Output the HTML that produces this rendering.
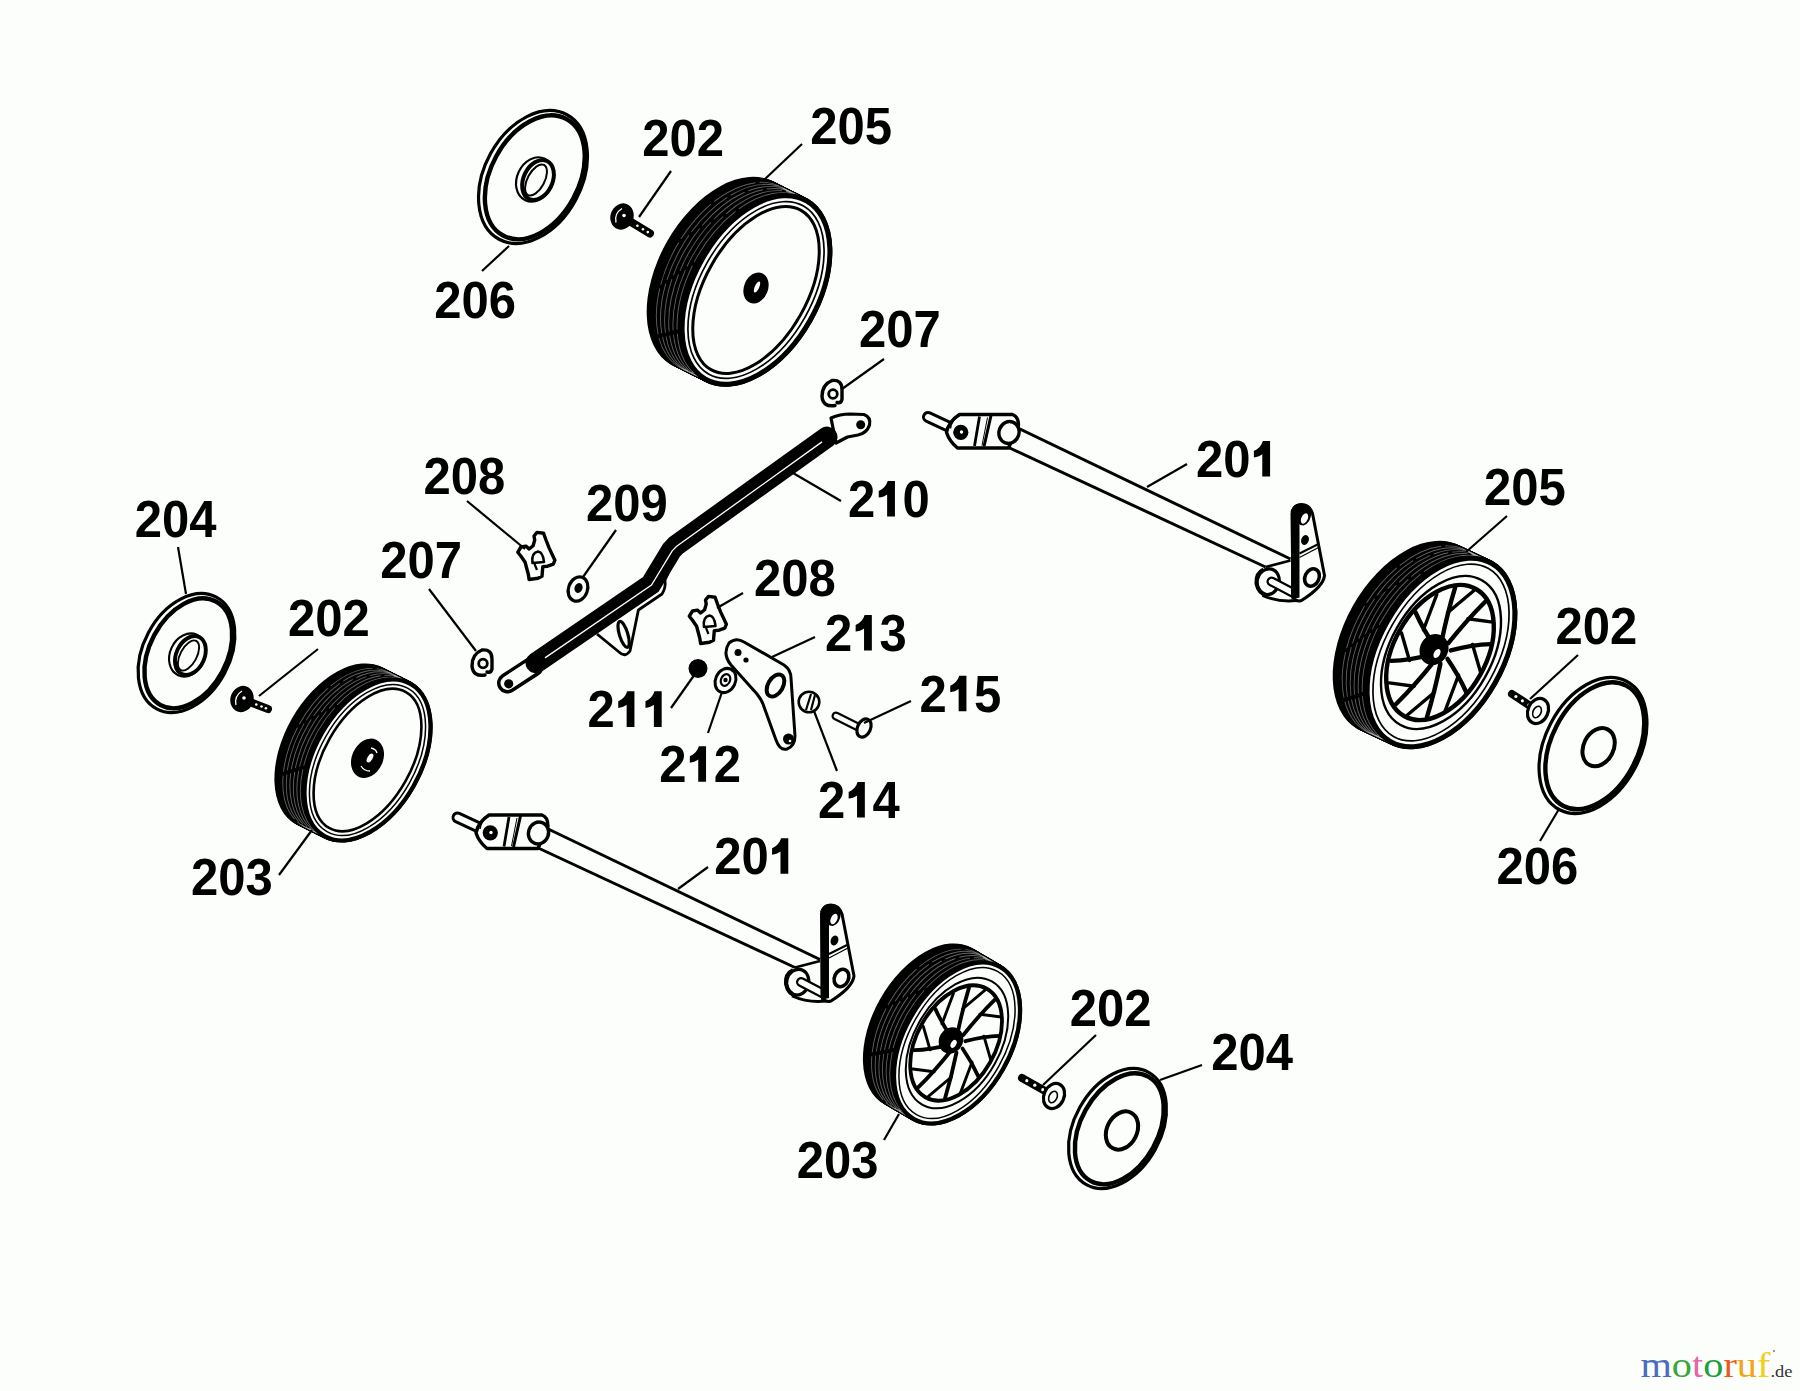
<!DOCTYPE html>
<html><head><meta charset="utf-8"><style>html,body{margin:0;padding:0;background:#fcfefc;}svg{display:block}</style></head>
<body><svg width="1800" height="1391" viewBox="0 0 1800 1391">
<rect width="1800" height="1391" fill="#fcfefc"/>
<ellipse cx="533.0" cy="177.0" rx="48.5" ry="70.9" transform="rotate(28.6 533.0 177.0)" fill="#fcfefc" stroke="#000" stroke-width="3.2"/>
<ellipse cx="534.8" cy="177.3" rx="43.9" ry="66.3" transform="rotate(28.6 534.8 177.3)" fill="none" stroke="#000" stroke-width="4.4"/>
<ellipse cx="186.5" cy="653.0" rx="43.2" ry="63.3" transform="rotate(28.1 186.5 653.0)" fill="#fcfefc" stroke="#000" stroke-width="3.2"/>
<ellipse cx="188.3" cy="653.3" rx="38.6" ry="58.7" transform="rotate(28.1 188.3 653.3)" fill="none" stroke="#000" stroke-width="4.4"/>
<ellipse cx="1593.0" cy="745.5" rx="47.7" ry="72.4" transform="rotate(27.5 1593.0 745.5)" fill="#fcfefc" stroke="#000" stroke-width="3.2"/>
<ellipse cx="1594.8" cy="745.8" rx="43.1" ry="67.8" transform="rotate(27.5 1594.8 745.8)" fill="none" stroke="#000" stroke-width="4.4"/>
<ellipse cx="1117.5" cy="1128.5" rx="43.2" ry="64.2" transform="rotate(29.0 1117.5 1128.5)" fill="#fcfefc" stroke="#000" stroke-width="3.2"/>
<ellipse cx="1119.3" cy="1128.8" rx="38.6" ry="59.6" transform="rotate(29.0 1119.3 1128.8)" fill="none" stroke="#000" stroke-width="4.4"/>
<ellipse cx="535.0" cy="179.5" rx="18.0" ry="23.0" transform="rotate(25.0 535.0 179.5)" fill="none" stroke="#000" stroke-width="2.2"/>
<ellipse cx="538.0" cy="180.0" rx="14.5" ry="21.0" transform="rotate(25.0 538.0 180.0)" fill="none" stroke="#000" stroke-width="4.0"/>
<ellipse cx="536.0" cy="180.0" rx="8.5" ry="17.0" transform="rotate(28.0 536.0 180.0)" fill="none" stroke="#000" stroke-width="2.0"/>
<ellipse cx="187.5" cy="655.0" rx="17.5" ry="22.3" transform="rotate(25.0 187.5 655.0)" fill="none" stroke="#000" stroke-width="2.1"/>
<ellipse cx="190.4" cy="655.5" rx="14.1" ry="20.4" transform="rotate(25.0 190.4 655.5)" fill="none" stroke="#000" stroke-width="3.9"/>
<ellipse cx="188.5" cy="655.5" rx="8.2" ry="16.5" transform="rotate(28.0 188.5 655.5)" fill="none" stroke="#000" stroke-width="1.9"/>
<ellipse cx="1598.6" cy="747.2" rx="15.0" ry="20.0" transform="rotate(27.0 1598.6 747.2)" fill="none" stroke="#000" stroke-width="4"/>
<ellipse cx="1122.0" cy="1130.5" rx="15.0" ry="20.0" transform="rotate(27.0 1122.0 1130.5)" fill="none" stroke="#000" stroke-width="4"/>
<ellipse cx="723.0" cy="273.5" rx="64.5" ry="105.0" transform="rotate(29.5 723.0 273.5)" fill="#000"/>
<ellipse cx="724.4" cy="274.2" rx="64.5" ry="105.0" transform="rotate(29.5 724.4 274.2)" fill="#000"/>
<ellipse cx="725.8" cy="274.9" rx="64.5" ry="105.0" transform="rotate(29.5 725.8 274.9)" fill="#000"/>
<ellipse cx="727.1" cy="275.6" rx="64.5" ry="105.0" transform="rotate(29.5 727.1 275.6)" fill="#000"/>
<ellipse cx="728.5" cy="276.2" rx="64.5" ry="105.0" transform="rotate(29.5 728.5 276.2)" fill="#000"/>
<ellipse cx="729.9" cy="276.9" rx="64.5" ry="105.0" transform="rotate(29.5 729.9 276.9)" fill="#000"/>
<ellipse cx="731.2" cy="277.6" rx="64.5" ry="105.0" transform="rotate(29.5 731.2 277.6)" fill="#000"/>
<ellipse cx="732.6" cy="278.3" rx="64.5" ry="105.0" transform="rotate(29.5 732.6 278.3)" fill="#000"/>
<ellipse cx="734.0" cy="279.0" rx="64.5" ry="105.0" transform="rotate(29.5 734.0 279.0)" fill="#000"/>
<ellipse cx="735.4" cy="279.7" rx="64.5" ry="105.0" transform="rotate(29.5 735.4 279.7)" fill="#000"/>
<ellipse cx="736.8" cy="280.4" rx="64.5" ry="105.0" transform="rotate(29.5 736.8 280.4)" fill="#000"/>
<ellipse cx="738.1" cy="281.1" rx="64.5" ry="105.0" transform="rotate(29.5 738.1 281.1)" fill="#000"/>
<ellipse cx="739.5" cy="281.8" rx="64.5" ry="105.0" transform="rotate(29.5 739.5 281.8)" fill="#000"/>
<ellipse cx="740.9" cy="282.4" rx="64.5" ry="105.0" transform="rotate(29.5 740.9 282.4)" fill="#000"/>
<ellipse cx="742.2" cy="283.1" rx="64.5" ry="105.0" transform="rotate(29.5 742.2 283.1)" fill="#000"/>
<ellipse cx="743.6" cy="283.8" rx="64.5" ry="105.0" transform="rotate(29.5 743.6 283.8)" fill="#000"/>
<ellipse cx="745.0" cy="284.5" rx="64.5" ry="105.0" transform="rotate(29.5 745.0 284.5)" fill="#000"/>
<ellipse cx="746.4" cy="285.2" rx="64.5" ry="105.0" transform="rotate(29.5 746.4 285.2)" fill="#000"/>
<ellipse cx="747.8" cy="285.9" rx="64.5" ry="105.0" transform="rotate(29.5 747.8 285.9)" fill="#000"/>
<ellipse cx="749.1" cy="286.6" rx="64.5" ry="105.0" transform="rotate(29.5 749.1 286.6)" fill="#000"/>
<ellipse cx="750.5" cy="287.2" rx="64.5" ry="105.0" transform="rotate(29.5 750.5 287.2)" fill="#000"/>
<ellipse cx="751.9" cy="287.9" rx="64.5" ry="105.0" transform="rotate(29.5 751.9 287.9)" fill="#000"/>
<ellipse cx="753.2" cy="288.6" rx="64.5" ry="105.0" transform="rotate(29.5 753.2 288.6)" fill="#000"/>
<ellipse cx="754.6" cy="289.3" rx="64.5" ry="105.0" transform="rotate(29.5 754.6 289.3)" fill="#000"/>
<ellipse cx="756.0" cy="290.0" rx="64.5" ry="105.0" transform="rotate(29.5 756.0 290.0)" fill="#000"/>
<ellipse cx="731.2" cy="277.6" rx="63.0" ry="103.5" transform="rotate(29.5 731.2 277.6)" fill="none" stroke="#fff" stroke-width="0.9" stroke-opacity="0.38" stroke-dasharray="46 4" stroke-dashoffset="26"/>
<ellipse cx="735.4" cy="279.7" rx="63.0" ry="103.5" transform="rotate(29.5 735.4 279.7)" fill="none" stroke="#fff" stroke-width="0.9" stroke-opacity="0.38" stroke-dasharray="50 4" stroke-dashoffset="39"/>
<ellipse cx="739.5" cy="281.8" rx="63.0" ry="103.5" transform="rotate(29.5 739.5 281.8)" fill="none" stroke="#fff" stroke-width="0.9" stroke-opacity="0.38" stroke-dasharray="54 4" stroke-dashoffset="52"/>
<ellipse cx="743.6" cy="283.8" rx="63.0" ry="103.5" transform="rotate(29.5 743.6 283.8)" fill="none" stroke="#fff" stroke-width="0.9" stroke-opacity="0.38" stroke-dasharray="58 4" stroke-dashoffset="65"/>
<ellipse cx="747.8" cy="285.9" rx="63.0" ry="103.5" transform="rotate(29.5 747.8 285.9)" fill="none" stroke="#fff" stroke-width="0.9" stroke-opacity="0.38" stroke-dasharray="62 4" stroke-dashoffset="78"/>
<ellipse cx="751.9" cy="287.9" rx="63.0" ry="103.5" transform="rotate(29.5 751.9 287.9)" fill="none" stroke="#fff" stroke-width="0.9" stroke-opacity="0.38" stroke-dasharray="66 4" stroke-dashoffset="91"/>
<ellipse cx="756.0" cy="290.0" rx="62.0" ry="102.5" transform="rotate(29.5 756.0 290.0)" fill="#fcfefc" stroke="#000" stroke-width="5.0"/>
<ellipse cx="756.0" cy="290.0" rx="56.0" ry="96.5" transform="rotate(29.5 756.0 290.0)" fill="none" stroke="#000" stroke-width="1.7"/>
<ellipse cx="756.0" cy="290.0" rx="51.0" ry="91.5" transform="rotate(29.5 756.0 290.0)" fill="none" stroke="#000" stroke-width="3.0"/>
<ellipse cx="756.0" cy="288.0" rx="12.0" ry="16.0" transform="rotate(22.0 756.0 288.0)" fill="#000"/>
<ellipse cx="757.0" cy="287.0" rx="2.2" ry="6.0" transform="rotate(25.0 757.0 287.0)" fill="#fff"/>
<ellipse cx="339.5" cy="746.0" rx="55.0" ry="89.6" transform="rotate(29.5 339.5 746.0)" fill="#000"/>
<ellipse cx="340.7" cy="746.6" rx="55.0" ry="89.6" transform="rotate(29.5 340.7 746.6)" fill="#000"/>
<ellipse cx="341.8" cy="747.2" rx="55.0" ry="89.6" transform="rotate(29.5 341.8 747.2)" fill="#000"/>
<ellipse cx="343.0" cy="747.8" rx="55.0" ry="89.6" transform="rotate(29.5 343.0 747.8)" fill="#000"/>
<ellipse cx="344.2" cy="748.3" rx="55.0" ry="89.6" transform="rotate(29.5 344.2 748.3)" fill="#000"/>
<ellipse cx="345.3" cy="748.9" rx="55.0" ry="89.6" transform="rotate(29.5 345.3 748.9)" fill="#000"/>
<ellipse cx="346.5" cy="749.5" rx="55.0" ry="89.6" transform="rotate(29.5 346.5 749.5)" fill="#000"/>
<ellipse cx="347.7" cy="750.1" rx="55.0" ry="89.6" transform="rotate(29.5 347.7 750.1)" fill="#000"/>
<ellipse cx="348.8" cy="750.7" rx="55.0" ry="89.6" transform="rotate(29.5 348.8 750.7)" fill="#000"/>
<ellipse cx="350.0" cy="751.2" rx="55.0" ry="89.6" transform="rotate(29.5 350.0 751.2)" fill="#000"/>
<ellipse cx="351.2" cy="751.8" rx="55.0" ry="89.6" transform="rotate(29.5 351.2 751.8)" fill="#000"/>
<ellipse cx="352.3" cy="752.4" rx="55.0" ry="89.6" transform="rotate(29.5 352.3 752.4)" fill="#000"/>
<ellipse cx="353.5" cy="753.0" rx="55.0" ry="89.6" transform="rotate(29.5 353.5 753.0)" fill="#000"/>
<ellipse cx="354.7" cy="753.6" rx="55.0" ry="89.6" transform="rotate(29.5 354.7 753.6)" fill="#000"/>
<ellipse cx="355.8" cy="754.2" rx="55.0" ry="89.6" transform="rotate(29.5 355.8 754.2)" fill="#000"/>
<ellipse cx="357.0" cy="754.8" rx="55.0" ry="89.6" transform="rotate(29.5 357.0 754.8)" fill="#000"/>
<ellipse cx="358.2" cy="755.3" rx="55.0" ry="89.6" transform="rotate(29.5 358.2 755.3)" fill="#000"/>
<ellipse cx="359.3" cy="755.9" rx="55.0" ry="89.6" transform="rotate(29.5 359.3 755.9)" fill="#000"/>
<ellipse cx="360.5" cy="756.5" rx="55.0" ry="89.6" transform="rotate(29.5 360.5 756.5)" fill="#000"/>
<ellipse cx="361.7" cy="757.1" rx="55.0" ry="89.6" transform="rotate(29.5 361.7 757.1)" fill="#000"/>
<ellipse cx="362.8" cy="757.7" rx="55.0" ry="89.6" transform="rotate(29.5 362.8 757.7)" fill="#000"/>
<ellipse cx="364.0" cy="758.2" rx="55.0" ry="89.6" transform="rotate(29.5 364.0 758.2)" fill="#000"/>
<ellipse cx="365.2" cy="758.8" rx="55.0" ry="89.6" transform="rotate(29.5 365.2 758.8)" fill="#000"/>
<ellipse cx="366.3" cy="759.4" rx="55.0" ry="89.6" transform="rotate(29.5 366.3 759.4)" fill="#000"/>
<ellipse cx="367.5" cy="760.0" rx="55.0" ry="89.6" transform="rotate(29.5 367.5 760.0)" fill="#000"/>
<ellipse cx="346.5" cy="749.5" rx="53.5" ry="88.1" transform="rotate(29.5 346.5 749.5)" fill="none" stroke="#fff" stroke-width="0.9" stroke-opacity="0.38" stroke-dasharray="46 4" stroke-dashoffset="26"/>
<ellipse cx="350.0" cy="751.2" rx="53.5" ry="88.1" transform="rotate(29.5 350.0 751.2)" fill="none" stroke="#fff" stroke-width="0.9" stroke-opacity="0.38" stroke-dasharray="50 4" stroke-dashoffset="39"/>
<ellipse cx="353.5" cy="753.0" rx="53.5" ry="88.1" transform="rotate(29.5 353.5 753.0)" fill="none" stroke="#fff" stroke-width="0.9" stroke-opacity="0.38" stroke-dasharray="54 4" stroke-dashoffset="52"/>
<ellipse cx="357.0" cy="754.8" rx="53.5" ry="88.1" transform="rotate(29.5 357.0 754.8)" fill="none" stroke="#fff" stroke-width="0.9" stroke-opacity="0.38" stroke-dasharray="58 4" stroke-dashoffset="65"/>
<ellipse cx="360.5" cy="756.5" rx="53.5" ry="88.1" transform="rotate(29.5 360.5 756.5)" fill="none" stroke="#fff" stroke-width="0.9" stroke-opacity="0.38" stroke-dasharray="62 4" stroke-dashoffset="78"/>
<ellipse cx="364.0" cy="758.2" rx="53.5" ry="88.1" transform="rotate(29.5 364.0 758.2)" fill="none" stroke="#fff" stroke-width="0.9" stroke-opacity="0.38" stroke-dasharray="66 4" stroke-dashoffset="91"/>
<ellipse cx="367.5" cy="760.0" rx="52.9" ry="87.4" transform="rotate(29.5 367.5 760.0)" fill="#fcfefc" stroke="#000" stroke-width="4.3"/>
<ellipse cx="367.5" cy="760.0" rx="47.8" ry="82.3" transform="rotate(29.5 367.5 760.0)" fill="none" stroke="#000" stroke-width="1.5"/>
<ellipse cx="367.5" cy="760.0" rx="43.5" ry="78.0" transform="rotate(29.5 367.5 760.0)" fill="none" stroke="#000" stroke-width="2.6"/>
<ellipse cx="367.5" cy="758.3" rx="15.5" ry="20.5" transform="rotate(25.0 367.5 758.3)" fill="#000"/>
<ellipse cx="370.0" cy="758.0" rx="2.5" ry="5.0" transform="rotate(30.0 370.0 758.0)" fill="#fff"/>
<path d="M361,766 Q364,771 370,771" fill="none" stroke="#fff" stroke-width="1.3"/>
<path d="M371,748 Q376,749 377,753" fill="none" stroke="#fff" stroke-width="1.3"/>
<ellipse cx="1409.0" cy="637.5" rx="64.5" ry="105.0" transform="rotate(29.5 1409.0 637.5)" fill="#000"/>
<ellipse cx="1410.3" cy="638.1" rx="64.5" ry="105.0" transform="rotate(29.5 1410.3 638.1)" fill="#000"/>
<ellipse cx="1411.7" cy="638.8" rx="64.5" ry="105.0" transform="rotate(29.5 1411.7 638.8)" fill="#000"/>
<ellipse cx="1413.0" cy="639.4" rx="64.5" ry="105.0" transform="rotate(29.5 1413.0 639.4)" fill="#000"/>
<ellipse cx="1414.3" cy="640.0" rx="64.5" ry="105.0" transform="rotate(29.5 1414.3 640.0)" fill="#000"/>
<ellipse cx="1415.7" cy="640.6" rx="64.5" ry="105.0" transform="rotate(29.5 1415.7 640.6)" fill="#000"/>
<ellipse cx="1417.0" cy="641.2" rx="64.5" ry="105.0" transform="rotate(29.5 1417.0 641.2)" fill="#000"/>
<ellipse cx="1418.3" cy="641.9" rx="64.5" ry="105.0" transform="rotate(29.5 1418.3 641.9)" fill="#000"/>
<ellipse cx="1419.7" cy="642.5" rx="64.5" ry="105.0" transform="rotate(29.5 1419.7 642.5)" fill="#000"/>
<ellipse cx="1421.0" cy="643.1" rx="64.5" ry="105.0" transform="rotate(29.5 1421.0 643.1)" fill="#000"/>
<ellipse cx="1422.3" cy="643.8" rx="64.5" ry="105.0" transform="rotate(29.5 1422.3 643.8)" fill="#000"/>
<ellipse cx="1423.7" cy="644.4" rx="64.5" ry="105.0" transform="rotate(29.5 1423.7 644.4)" fill="#000"/>
<ellipse cx="1425.0" cy="645.0" rx="64.5" ry="105.0" transform="rotate(29.5 1425.0 645.0)" fill="#000"/>
<ellipse cx="1426.3" cy="645.6" rx="64.5" ry="105.0" transform="rotate(29.5 1426.3 645.6)" fill="#000"/>
<ellipse cx="1427.7" cy="646.2" rx="64.5" ry="105.0" transform="rotate(29.5 1427.7 646.2)" fill="#000"/>
<ellipse cx="1429.0" cy="646.9" rx="64.5" ry="105.0" transform="rotate(29.5 1429.0 646.9)" fill="#000"/>
<ellipse cx="1430.3" cy="647.5" rx="64.5" ry="105.0" transform="rotate(29.5 1430.3 647.5)" fill="#000"/>
<ellipse cx="1431.7" cy="648.1" rx="64.5" ry="105.0" transform="rotate(29.5 1431.7 648.1)" fill="#000"/>
<ellipse cx="1433.0" cy="648.8" rx="64.5" ry="105.0" transform="rotate(29.5 1433.0 648.8)" fill="#000"/>
<ellipse cx="1434.3" cy="649.4" rx="64.5" ry="105.0" transform="rotate(29.5 1434.3 649.4)" fill="#000"/>
<ellipse cx="1435.7" cy="650.0" rx="64.5" ry="105.0" transform="rotate(29.5 1435.7 650.0)" fill="#000"/>
<ellipse cx="1437.0" cy="650.6" rx="64.5" ry="105.0" transform="rotate(29.5 1437.0 650.6)" fill="#000"/>
<ellipse cx="1438.3" cy="651.2" rx="64.5" ry="105.0" transform="rotate(29.5 1438.3 651.2)" fill="#000"/>
<ellipse cx="1439.7" cy="651.9" rx="64.5" ry="105.0" transform="rotate(29.5 1439.7 651.9)" fill="#000"/>
<ellipse cx="1441.0" cy="652.5" rx="64.5" ry="105.0" transform="rotate(29.5 1441.0 652.5)" fill="#000"/>
<ellipse cx="1417.0" cy="641.2" rx="63.0" ry="103.5" transform="rotate(29.5 1417.0 641.2)" fill="none" stroke="#fff" stroke-width="0.9" stroke-opacity="0.38" stroke-dasharray="46 4" stroke-dashoffset="26"/>
<ellipse cx="1421.0" cy="643.1" rx="63.0" ry="103.5" transform="rotate(29.5 1421.0 643.1)" fill="none" stroke="#fff" stroke-width="0.9" stroke-opacity="0.38" stroke-dasharray="50 4" stroke-dashoffset="39"/>
<ellipse cx="1425.0" cy="645.0" rx="63.0" ry="103.5" transform="rotate(29.5 1425.0 645.0)" fill="none" stroke="#fff" stroke-width="0.9" stroke-opacity="0.38" stroke-dasharray="54 4" stroke-dashoffset="52"/>
<ellipse cx="1429.0" cy="646.9" rx="63.0" ry="103.5" transform="rotate(29.5 1429.0 646.9)" fill="none" stroke="#fff" stroke-width="0.9" stroke-opacity="0.38" stroke-dasharray="58 4" stroke-dashoffset="65"/>
<ellipse cx="1433.0" cy="648.8" rx="63.0" ry="103.5" transform="rotate(29.5 1433.0 648.8)" fill="none" stroke="#fff" stroke-width="0.9" stroke-opacity="0.38" stroke-dasharray="62 4" stroke-dashoffset="78"/>
<ellipse cx="1437.0" cy="650.6" rx="63.0" ry="103.5" transform="rotate(29.5 1437.0 650.6)" fill="none" stroke="#fff" stroke-width="0.9" stroke-opacity="0.38" stroke-dasharray="66 4" stroke-dashoffset="91"/>
<ellipse cx="1441.0" cy="652.5" rx="62.0" ry="102.5" transform="rotate(29.5 1441.0 652.5)" fill="#fcfefc" stroke="#000" stroke-width="5.0"/>
<ellipse cx="1441.0" cy="652.5" rx="56.0" ry="96.5" transform="rotate(29.5 1441.0 652.5)" fill="none" stroke="#000" stroke-width="1.7"/>
<ellipse cx="1441.0" cy="652.5" rx="50.5" ry="83.0" transform="rotate(29.5 1441.0 652.5)" fill="none" stroke="#000" stroke-width="2.4"/>
<ellipse cx="1440.0" cy="652.5" rx="46.0" ry="73.0" transform="rotate(29.5 1440.0 652.5)" fill="none" stroke="#000" stroke-width="4.4"/>
<path d="M1448.3,643.1 Q1467.9,618.7 1486.2,600.7" fill="none" stroke="#000" stroke-width="4.4" stroke-linecap="round"/>
<path d="M1467.9,618.7 L1492.7,622.1" fill="none" stroke="#000" stroke-width="3.4" stroke-linecap="round"/>
<path d="M1450.8,650.4 Q1472.5,644.5 1490.9,644.1" fill="none" stroke="#000" stroke-width="4.4" stroke-linecap="round"/>
<path d="M1472.5,644.5 L1480.5,672.0" fill="none" stroke="#000" stroke-width="3.4" stroke-linecap="round"/>
<path d="M1447.5,658.9 Q1458.6,675.0 1466.4,692.5" fill="none" stroke="#000" stroke-width="4.4" stroke-linecap="round"/>
<path d="M1458.6,675.0 L1445.2,710.5" fill="none" stroke="#000" stroke-width="3.4" stroke-linecap="round"/>
<path d="M1440.4,663.7 Q1434.5,692.3 1426.9,717.4" fill="none" stroke="#000" stroke-width="4.4" stroke-linecap="round"/>
<path d="M1434.5,692.3 L1407.4,715.0" fill="none" stroke="#000" stroke-width="3.4" stroke-linecap="round"/>
<path d="M1433.7,661.9 Q1414.1,686.3 1395.8,704.3" fill="none" stroke="#000" stroke-width="4.4" stroke-linecap="round"/>
<path d="M1414.1,686.3 L1389.3,682.9" fill="none" stroke="#000" stroke-width="3.4" stroke-linecap="round"/>
<path d="M1431.2,654.6 Q1409.5,660.5 1391.1,660.9" fill="none" stroke="#000" stroke-width="4.4" stroke-linecap="round"/>
<path d="M1409.5,660.5 L1401.5,633.0" fill="none" stroke="#000" stroke-width="3.4" stroke-linecap="round"/>
<path d="M1434.5,646.1 Q1423.4,630.0 1415.6,612.5" fill="none" stroke="#000" stroke-width="4.4" stroke-linecap="round"/>
<path d="M1423.4,630.0 L1436.8,594.5" fill="none" stroke="#000" stroke-width="3.4" stroke-linecap="round"/>
<path d="M1441.6,641.3 Q1447.5,612.7 1455.1,587.6" fill="none" stroke="#000" stroke-width="4.4" stroke-linecap="round"/>
<path d="M1447.5,612.7 L1474.6,590.0" fill="none" stroke="#000" stroke-width="3.4" stroke-linecap="round"/>
<ellipse cx="1434.0" cy="649.5" rx="14.0" ry="16.0" transform="rotate(29.5 1434.0 649.5)" fill="#000"/>
<ellipse cx="1437.0" cy="653.5" rx="3.0" ry="5.0" transform="rotate(29.5 1437.0 653.5)" fill="#fff"/>
<ellipse cx="928.0" cy="1026.0" rx="55.0" ry="89.6" transform="rotate(29.5 928.0 1026.0)" fill="#000"/>
<ellipse cx="929.2" cy="1026.7" rx="55.0" ry="89.6" transform="rotate(29.5 929.2 1026.7)" fill="#000"/>
<ellipse cx="930.4" cy="1027.4" rx="55.0" ry="89.6" transform="rotate(29.5 930.4 1027.4)" fill="#000"/>
<ellipse cx="931.6" cy="1028.1" rx="55.0" ry="89.6" transform="rotate(29.5 931.6 1028.1)" fill="#000"/>
<ellipse cx="932.8" cy="1028.8" rx="55.0" ry="89.6" transform="rotate(29.5 932.8 1028.8)" fill="#000"/>
<ellipse cx="934.0" cy="1029.5" rx="55.0" ry="89.6" transform="rotate(29.5 934.0 1029.5)" fill="#000"/>
<ellipse cx="935.2" cy="1030.2" rx="55.0" ry="89.6" transform="rotate(29.5 935.2 1030.2)" fill="#000"/>
<ellipse cx="936.5" cy="1031.0" rx="55.0" ry="89.6" transform="rotate(29.5 936.5 1031.0)" fill="#000"/>
<ellipse cx="937.7" cy="1031.7" rx="55.0" ry="89.6" transform="rotate(29.5 937.7 1031.7)" fill="#000"/>
<ellipse cx="938.9" cy="1032.4" rx="55.0" ry="89.6" transform="rotate(29.5 938.9 1032.4)" fill="#000"/>
<ellipse cx="940.1" cy="1033.1" rx="55.0" ry="89.6" transform="rotate(29.5 940.1 1033.1)" fill="#000"/>
<ellipse cx="941.3" cy="1033.8" rx="55.0" ry="89.6" transform="rotate(29.5 941.3 1033.8)" fill="#000"/>
<ellipse cx="942.5" cy="1034.5" rx="55.0" ry="89.6" transform="rotate(29.5 942.5 1034.5)" fill="#000"/>
<ellipse cx="943.7" cy="1035.2" rx="55.0" ry="89.6" transform="rotate(29.5 943.7 1035.2)" fill="#000"/>
<ellipse cx="944.9" cy="1035.9" rx="55.0" ry="89.6" transform="rotate(29.5 944.9 1035.9)" fill="#000"/>
<ellipse cx="946.1" cy="1036.6" rx="55.0" ry="89.6" transform="rotate(29.5 946.1 1036.6)" fill="#000"/>
<ellipse cx="947.3" cy="1037.3" rx="55.0" ry="89.6" transform="rotate(29.5 947.3 1037.3)" fill="#000"/>
<ellipse cx="948.5" cy="1038.0" rx="55.0" ry="89.6" transform="rotate(29.5 948.5 1038.0)" fill="#000"/>
<ellipse cx="949.8" cy="1038.8" rx="55.0" ry="89.6" transform="rotate(29.5 949.8 1038.8)" fill="#000"/>
<ellipse cx="951.0" cy="1039.5" rx="55.0" ry="89.6" transform="rotate(29.5 951.0 1039.5)" fill="#000"/>
<ellipse cx="952.2" cy="1040.2" rx="55.0" ry="89.6" transform="rotate(29.5 952.2 1040.2)" fill="#000"/>
<ellipse cx="953.4" cy="1040.9" rx="55.0" ry="89.6" transform="rotate(29.5 953.4 1040.9)" fill="#000"/>
<ellipse cx="954.6" cy="1041.6" rx="55.0" ry="89.6" transform="rotate(29.5 954.6 1041.6)" fill="#000"/>
<ellipse cx="955.8" cy="1042.3" rx="55.0" ry="89.6" transform="rotate(29.5 955.8 1042.3)" fill="#000"/>
<ellipse cx="957.0" cy="1043.0" rx="55.0" ry="89.6" transform="rotate(29.5 957.0 1043.0)" fill="#000"/>
<ellipse cx="935.2" cy="1030.2" rx="53.5" ry="88.1" transform="rotate(29.5 935.2 1030.2)" fill="none" stroke="#fff" stroke-width="0.9" stroke-opacity="0.38" stroke-dasharray="46 4" stroke-dashoffset="26"/>
<ellipse cx="938.9" cy="1032.4" rx="53.5" ry="88.1" transform="rotate(29.5 938.9 1032.4)" fill="none" stroke="#fff" stroke-width="0.9" stroke-opacity="0.38" stroke-dasharray="50 4" stroke-dashoffset="39"/>
<ellipse cx="942.5" cy="1034.5" rx="53.5" ry="88.1" transform="rotate(29.5 942.5 1034.5)" fill="none" stroke="#fff" stroke-width="0.9" stroke-opacity="0.38" stroke-dasharray="54 4" stroke-dashoffset="52"/>
<ellipse cx="946.1" cy="1036.6" rx="53.5" ry="88.1" transform="rotate(29.5 946.1 1036.6)" fill="none" stroke="#fff" stroke-width="0.9" stroke-opacity="0.38" stroke-dasharray="58 4" stroke-dashoffset="65"/>
<ellipse cx="949.8" cy="1038.8" rx="53.5" ry="88.1" transform="rotate(29.5 949.8 1038.8)" fill="none" stroke="#fff" stroke-width="0.9" stroke-opacity="0.38" stroke-dasharray="62 4" stroke-dashoffset="78"/>
<ellipse cx="953.4" cy="1040.9" rx="53.5" ry="88.1" transform="rotate(29.5 953.4 1040.9)" fill="none" stroke="#fff" stroke-width="0.9" stroke-opacity="0.38" stroke-dasharray="66 4" stroke-dashoffset="91"/>
<ellipse cx="957.0" cy="1043.0" rx="52.9" ry="87.4" transform="rotate(29.5 957.0 1043.0)" fill="#fcfefc" stroke="#000" stroke-width="4.3"/>
<ellipse cx="957.0" cy="1043.0" rx="47.8" ry="82.3" transform="rotate(29.5 957.0 1043.0)" fill="none" stroke="#000" stroke-width="1.5"/>
<ellipse cx="957.0" cy="1043.0" rx="43.1" ry="70.8" transform="rotate(29.5 957.0 1043.0)" fill="none" stroke="#000" stroke-width="2.0"/>
<ellipse cx="956.1" cy="1043.0" rx="39.2" ry="62.3" transform="rotate(29.5 956.1 1043.0)" fill="none" stroke="#000" stroke-width="3.8"/>
<path d="M963.3,1035.0 Q979.9,1014.2 995.6,998.8" fill="none" stroke="#000" stroke-width="3.8" stroke-linecap="round"/>
<path d="M979.9,1014.2 L1001.1,1017.0" fill="none" stroke="#000" stroke-width="2.9" stroke-linecap="round"/>
<path d="M965.4,1041.2 Q983.9,1036.2 999.6,1035.9" fill="none" stroke="#000" stroke-width="3.8" stroke-linecap="round"/>
<path d="M983.9,1036.2 L990.7,1059.6" fill="none" stroke="#000" stroke-width="2.9" stroke-linecap="round"/>
<path d="M962.5,1048.5 Q972.0,1062.2 978.6,1077.1" fill="none" stroke="#000" stroke-width="3.8" stroke-linecap="round"/>
<path d="M972.0,1062.2 L960.6,1092.5" fill="none" stroke="#000" stroke-width="2.9" stroke-linecap="round"/>
<path d="M956.5,1052.5 Q951.4,1077.0 945.0,1098.4" fill="none" stroke="#000" stroke-width="3.8" stroke-linecap="round"/>
<path d="M951.4,1077.0 L928.4,1096.3" fill="none" stroke="#000" stroke-width="2.9" stroke-linecap="round"/>
<path d="M950.7,1051.0 Q934.1,1071.8 918.4,1087.2" fill="none" stroke="#000" stroke-width="3.8" stroke-linecap="round"/>
<path d="M934.1,1071.8 L912.9,1069.0" fill="none" stroke="#000" stroke-width="2.9" stroke-linecap="round"/>
<path d="M948.6,1044.8 Q930.1,1049.8 914.4,1050.1" fill="none" stroke="#000" stroke-width="3.8" stroke-linecap="round"/>
<path d="M930.1,1049.8 L923.3,1026.4" fill="none" stroke="#000" stroke-width="2.9" stroke-linecap="round"/>
<path d="M951.5,1037.5 Q942.0,1023.8 935.4,1008.9" fill="none" stroke="#000" stroke-width="3.8" stroke-linecap="round"/>
<path d="M942.0,1023.8 L953.4,993.5" fill="none" stroke="#000" stroke-width="2.9" stroke-linecap="round"/>
<path d="M957.5,1033.5 Q962.6,1009.0 969.0,987.6" fill="none" stroke="#000" stroke-width="3.8" stroke-linecap="round"/>
<path d="M962.6,1009.0 L985.6,989.7" fill="none" stroke="#000" stroke-width="2.9" stroke-linecap="round"/>
<ellipse cx="951.0" cy="1040.4" rx="11.9" ry="13.6" transform="rotate(29.5 951.0 1040.4)" fill="#000"/>
<ellipse cx="953.6" cy="1043.9" rx="2.6" ry="4.3" transform="rotate(29.5 953.6 1043.9)" fill="#fff"/>
<line x1="622.0" y1="216.5" x2="650.0" y2="233.5" stroke="#000" stroke-width="8" stroke-linecap="round"/>
<circle cx="637.4" cy="225.8" r="1.3" fill="#fff"/>
<circle cx="643.0" cy="229.2" r="1.3" fill="#fff"/>
<circle cx="647.8" cy="232.1" r="1.3" fill="#fff"/>
<ellipse cx="622.0" cy="216.5" rx="11.5" ry="13.3" transform="rotate(20.0 622.0 216.5)" fill="#000"/>
<path d="M616.0,222.5 Q614.0,213.5 622.0,208.5" fill="none" stroke="#fff" stroke-width="1.3"/>
<circle cx="624.0" cy="215.5" r="1.8" fill="#fff"/>
<line x1="242.0" y1="699.0" x2="268.0" y2="709.0" stroke="#000" stroke-width="8" stroke-linecap="round"/>
<circle cx="256.3" cy="704.5" r="1.3" fill="#fff"/>
<circle cx="261.5" cy="706.5" r="1.3" fill="#fff"/>
<circle cx="265.9" cy="708.2" r="1.3" fill="#fff"/>
<ellipse cx="242.0" cy="699.0" rx="11.5" ry="13.3" transform="rotate(20.0 242.0 699.0)" fill="#000"/>
<path d="M236.0,705.0 Q234.0,696.0 242.0,691.0" fill="none" stroke="#fff" stroke-width="1.3"/>
<circle cx="244.0" cy="698.0" r="1.8" fill="#fff"/>
<line x1="1538.0" y1="711.0" x2="1512.0" y2="694.0" stroke="#000" stroke-width="8" stroke-linecap="round"/>
<circle cx="1528.9" cy="705.0" r="1.6" fill="#fff"/>
<circle cx="1522.4" cy="700.8" r="1.6" fill="#fff"/>
<circle cx="1515.9" cy="696.5" r="1.6" fill="#fff"/>
<ellipse cx="1538.0" cy="711.0" rx="10.0" ry="13.0" transform="rotate(25.0 1538.0 711.0)" fill="#fcfefc" stroke="#000" stroke-width="3.2"/>
<ellipse cx="1537.0" cy="712.0" rx="4.0" ry="6.0" transform="rotate(25.0 1537.0 712.0)" fill="none" stroke="#000" stroke-width="1.6"/>
<line x1="1054.0" y1="1096.0" x2="1022.0" y2="1078.0" stroke="#000" stroke-width="8" stroke-linecap="round"/>
<circle cx="1042.8" cy="1089.7" r="1.6" fill="#fff"/>
<circle cx="1034.8" cy="1085.2" r="1.6" fill="#fff"/>
<circle cx="1026.8" cy="1080.7" r="1.6" fill="#fff"/>
<ellipse cx="1054.0" cy="1096.0" rx="10.0" ry="13.0" transform="rotate(25.0 1054.0 1096.0)" fill="#fcfefc" stroke="#000" stroke-width="3.2"/>
<ellipse cx="1053.0" cy="1097.0" rx="4.0" ry="6.0" transform="rotate(25.0 1053.0 1097.0)" fill="none" stroke="#000" stroke-width="1.6"/>
<path d="M546,827.5 L820,959 L795,967.5 L536,847.5 Z" fill="#fcfefc" stroke="none"/>
<line x1="543.0" y1="826.5" x2="820.0" y2="959.5" stroke="#000" stroke-width="3" stroke-linecap="butt"/>
<line x1="535.0" y1="846.5" x2="795.0" y2="967.5" stroke="#000" stroke-width="3" stroke-linecap="butt"/>
<line x1="457.5" y1="817.5" x2="480.0" y2="828.0" stroke="#000" stroke-width="12" stroke-linecap="round"/>
<line x1="457.5" y1="817.5" x2="480.0" y2="828.0" stroke="#fcfefc" stroke-width="6" stroke-linecap="round"/>
<path d="M489,815 L542,815 Q548,817 548,826 L538,848.5 L487,848.5 Q479,842 476,833 Q478,822 489,815 Z" fill="#fcfefc" stroke="#000" stroke-width="3.4" stroke-linejoin="round"/>
<circle cx="490.3" cy="832.8" r="7.6" fill="#000"/><circle cx="491" cy="832.5" r="1.7" fill="#fff"/>
<path d="M480,829 Q481,820 489,816" fill="none" stroke="#000" stroke-width="1.5"/>
<line x1="509.0" y1="817.0" x2="504.0" y2="846.5" stroke="#000" stroke-width="2.8" stroke-linecap="butt"/>
<line x1="520.5" y1="816.0" x2="513.5" y2="847.0" stroke="#000" stroke-width="3" stroke-linecap="butt"/>
<line x1="517.0" y1="818.0" x2="511.5" y2="846.0" stroke="#000" stroke-width="1" stroke-linecap="butt"/>
<ellipse cx="538.5" cy="833.0" rx="10.0" ry="11.0" transform="rotate(20.0 538.5 833.0)" fill="#fcfefc" stroke="#000" stroke-width="3.4"/>
<ellipse cx="797.7" cy="982.2" rx="11.0" ry="13.0" transform="rotate(15.0 797.7 982.2)" fill="#fcfefc" stroke="#000" stroke-width="3.2"/>
<path d="M793,970 Q785,974 786,984 Q788,994 797,996" fill="none" stroke="#000" stroke-width="4"/>
<line x1="801.0" y1="982.0" x2="822.0" y2="993.0" stroke="#000" stroke-width="10" stroke-linecap="round"/>
<line x1="801.0" y1="982.0" x2="822.0" y2="993.0" stroke="#fcfefc" stroke-width="5.5" stroke-linecap="round"/>
<path d="M792,996 Q808,1003 826,1001" fill="none" stroke="#000" stroke-width="3"/>
<line x1="795.0" y1="967.5" x2="820.0" y2="961.0" stroke="#000" stroke-width="2.6" stroke-linecap="butt"/>
<path d="M822,912 Q824,905 831,905 Q839,905 842,914 L854,976 Q853,987 831,1001 Q824,1003 822,996 Z" fill="#fcfefc" stroke="#000" stroke-width="3" stroke-linejoin="round"/>
<path d="M820,913 L829,911 L829,998 L821,1000 Z" fill="#000"/>
<path d="M820,912 Q823,903 831,904 Q840,905 841,913 Q840,924 833,926 Q826,926 825,917" fill="#000"/>
<ellipse cx="834.0" cy="919.0" rx="3.2" ry="5.5" transform="rotate(25.0 834.0 919.0)" fill="#fff"/>
<ellipse cx="834.5" cy="940.5" rx="3.8" ry="5.0" transform="rotate(20.0 834.5 940.5)" fill="#000"/>
<line x1="829.0" y1="954.0" x2="847.0" y2="945.0" stroke="#000" stroke-width="2" stroke-linecap="butt"/>
<line x1="829.0" y1="958.0" x2="848.0" y2="948.0" stroke="#000" stroke-width="1.2" stroke-linecap="butt"/>
<ellipse cx="841.5" cy="978.0" rx="7.0" ry="9.0" transform="rotate(25.0 841.5 978.0)" fill="none" stroke="#000" stroke-width="3.6"/>
<g transform="translate(470.5,-400.5)"><path d="M546,827.5 L820,959 L795,967.5 L536,847.5 Z" fill="#fcfefc" stroke="none"/>
<line x1="543.0" y1="826.5" x2="820.0" y2="959.5" stroke="#000" stroke-width="3" stroke-linecap="butt"/>
<line x1="535.0" y1="846.5" x2="795.0" y2="967.5" stroke="#000" stroke-width="3" stroke-linecap="butt"/>
<line x1="457.5" y1="817.5" x2="480.0" y2="828.0" stroke="#000" stroke-width="12" stroke-linecap="round"/>
<line x1="457.5" y1="817.5" x2="480.0" y2="828.0" stroke="#fcfefc" stroke-width="6" stroke-linecap="round"/>
<path d="M489,815 L542,815 Q548,817 548,826 L538,848.5 L487,848.5 Q479,842 476,833 Q478,822 489,815 Z" fill="#fcfefc" stroke="#000" stroke-width="3.4" stroke-linejoin="round"/>
<circle cx="490.3" cy="832.8" r="7.6" fill="#000"/><circle cx="491" cy="832.5" r="1.7" fill="#fff"/>
<path d="M480,829 Q481,820 489,816" fill="none" stroke="#000" stroke-width="1.5"/>
<line x1="509.0" y1="817.0" x2="504.0" y2="846.5" stroke="#000" stroke-width="2.8" stroke-linecap="butt"/>
<line x1="520.5" y1="816.0" x2="513.5" y2="847.0" stroke="#000" stroke-width="3" stroke-linecap="butt"/>
<line x1="517.0" y1="818.0" x2="511.5" y2="846.0" stroke="#000" stroke-width="1" stroke-linecap="butt"/>
<ellipse cx="538.5" cy="833.0" rx="10.0" ry="11.0" transform="rotate(20.0 538.5 833.0)" fill="#fcfefc" stroke="#000" stroke-width="3.4"/>
<ellipse cx="797.7" cy="982.2" rx="11.0" ry="13.0" transform="rotate(15.0 797.7 982.2)" fill="#fcfefc" stroke="#000" stroke-width="3.2"/>
<path d="M793,970 Q785,974 786,984 Q788,994 797,996" fill="none" stroke="#000" stroke-width="4"/>
<line x1="801.0" y1="982.0" x2="822.0" y2="993.0" stroke="#000" stroke-width="10" stroke-linecap="round"/>
<line x1="801.0" y1="982.0" x2="822.0" y2="993.0" stroke="#fcfefc" stroke-width="5.5" stroke-linecap="round"/>
<path d="M792,996 Q808,1003 826,1001" fill="none" stroke="#000" stroke-width="3"/>
<line x1="795.0" y1="967.5" x2="820.0" y2="961.0" stroke="#000" stroke-width="2.6" stroke-linecap="butt"/>
<path d="M822,912 Q824,905 831,905 Q839,905 842,914 L854,976 Q853,987 831,1001 Q824,1003 822,996 Z" fill="#fcfefc" stroke="#000" stroke-width="3" stroke-linejoin="round"/>
<path d="M820,913 L829,911 L829,998 L821,1000 Z" fill="#000"/>
<path d="M820,912 Q823,903 831,904 Q840,905 841,913 Q840,924 833,926 Q826,926 825,917" fill="#000"/>
<ellipse cx="834.0" cy="919.0" rx="3.2" ry="5.5" transform="rotate(25.0 834.0 919.0)" fill="#fff"/>
<ellipse cx="834.5" cy="940.5" rx="3.8" ry="5.0" transform="rotate(20.0 834.5 940.5)" fill="#000"/>
<line x1="829.0" y1="954.0" x2="847.0" y2="945.0" stroke="#000" stroke-width="2" stroke-linecap="butt"/>
<line x1="829.0" y1="958.0" x2="848.0" y2="948.0" stroke="#000" stroke-width="1.2" stroke-linecap="butt"/>
<ellipse cx="841.5" cy="978.0" rx="7.0" ry="9.0" transform="rotate(25.0 841.5 978.0)" fill="none" stroke="#000" stroke-width="3.6"/></g>
<line x1="507.5" y1="683.0" x2="533.0" y2="666.5" stroke="#000" stroke-width="21" stroke-linecap="round"/>
<line x1="507.5" y1="683.0" x2="531.0" y2="667.5" stroke="#fcfefc" stroke-width="14" stroke-linecap="round"/>
<circle cx="508.7" cy="683.8" r="4.6" fill="#000"/>
<path d="M831,418 Q840,414 850,414 L864,414.5 Q871,417 869.5,425 Q867,433 858,435 L847.5,437 L836,443 Z" fill="#fcfefc" stroke="#000" stroke-width="3.2" stroke-linejoin="round"/>
<circle cx="860.7" cy="424.7" r="4.5" fill="#000"/>
<polyline points="536.0,662.8 650.8,584.4 671.4,550.3 676.0,545.4 827.0,437.1" fill="none" stroke="#000" stroke-width="21" stroke-linejoin="miter" stroke-linecap="round"/>
<polyline points="545.0,657.9 651.5,585.1 672.2,550.9 676.7,546.2 822.0,441.9" fill="none" stroke="#fff" stroke-width="1.3" stroke-linejoin="miter"/>
<path d="M597,634 L619,652 Q625,658 630,651 L638.4,610 L662,594 Q666,588 665,580 L676,556" fill="none" stroke="#000" stroke-width="2.8" stroke-linejoin="round"/>
<ellipse cx="623.6" cy="634.4" rx="4.2" ry="13.5" transform="rotate(-17.0 623.6 634.4)" fill="none" stroke="#000" stroke-width="3.2"/>
<g transform="translate(538,556) scale(1.0)">
<path d="M-1.0,-23.6 L5.6,-22.8 L8.0,-16.0 L11.2,-7.9 L16.9,4.2 L15.3,8.2 L9.6,10.2 L4.8,10.6 L4.0,20.3 L0.0,22.3 L-8.9,23.5 L-9.7,18.3 L-12.9,6.2 L-17.0,0.2 L-20.2,-3.8 L-17.0,-9.0 L-12.1,-9.9 L-8.9,-7.0 L-4.9,-10.3 L-3.3,-15.9 L-4.0,-20.0 Z" fill="#fcfefc" stroke="#000" stroke-width="3.4" stroke-linejoin="round"/>
<path d="M-5.5,7 Q-7,-3 0,-4.5 Q5,-4 6,6 Z" fill="none" stroke="#000" stroke-width="2.6" stroke-linejoin="round"/>
<path d="M-3.5,8 L-1,14" stroke="#000" stroke-width="2.2"/>
</g>
<g transform="translate(709.5,620) scale(1.0)">
<path d="M-1.0,-23.6 L5.6,-22.8 L8.0,-16.0 L11.2,-7.9 L16.9,4.2 L15.3,8.2 L9.6,10.2 L4.8,10.6 L4.0,20.3 L0.0,22.3 L-8.9,23.5 L-9.7,18.3 L-12.9,6.2 L-17.0,0.2 L-20.2,-3.8 L-17.0,-9.0 L-12.1,-9.9 L-8.9,-7.0 L-4.9,-10.3 L-3.3,-15.9 L-4.0,-20.0 Z" fill="#fcfefc" stroke="#000" stroke-width="3.4" stroke-linejoin="round"/>
<path d="M-5.5,7 Q-7,-3 0,-4.5 Q5,-4 6,6 Z" fill="none" stroke="#000" stroke-width="2.6" stroke-linejoin="round"/>
<path d="M-3.5,8 L-1,14" stroke="#000" stroke-width="2.2"/>
</g>
<g transform="translate(832,393.5)"><path d="M3,12 Q-9,14 -10,3 Q-10,-9 0,-13 Q10,-14 10,-4 L10,6 Q9,10 5,9" fill="none" stroke="#000" stroke-width="3.4" stroke-linecap="round"/><circle cx="1" cy="0.5" r="4.3" fill="none" stroke="#000" stroke-width="2.8"/></g>
<g transform="translate(482,663)"><path d="M3,12 Q-9,14 -10,3 Q-10,-9 0,-13 Q10,-14 10,-4 L10,6 Q9,10 5,9" fill="none" stroke="#000" stroke-width="3.4" stroke-linecap="round"/><circle cx="1" cy="0.5" r="4.3" fill="none" stroke="#000" stroke-width="2.8"/></g>
<ellipse cx="578.0" cy="589.0" rx="9.5" ry="12.5" transform="rotate(20.0 578.0 589.0)" fill="none" stroke="#000" stroke-width="3.2"/>
<ellipse cx="578.5" cy="588.0" rx="4.0" ry="5.0" transform="rotate(20.0 578.5 588.0)" fill="#000"/>
<circle cx="698" cy="668.5" r="9.5" fill="#000"/>
<ellipse cx="725.5" cy="680.5" rx="10.0" ry="12.5" transform="rotate(25.0 725.5 680.5)" fill="none" stroke="#000" stroke-width="3"/>
<ellipse cx="725.5" cy="680.0" rx="4.5" ry="6.0" transform="rotate(25.0 725.5 680.0)" fill="none" stroke="#000" stroke-width="2.2"/>
<circle cx="725.5" cy="680" r="2.2" fill="#000"/>
<path d="M729,643 Q736,637 744,642 L784,665 Q791,670 791,678 L795,736 Q795,746 787,749 Q780,751 776,740 L763,704 Q761,699 757,694 L731,665 Q722,654 729,643 Z" fill="#fcfefc" stroke="#000" stroke-width="3" stroke-linejoin="round"/>
<circle cx="738" cy="652.5" r="3.5" fill="#000"/><circle cx="746" cy="660" r="2.6" fill="#000"/>
<ellipse cx="775.5" cy="685.5" rx="7.5" ry="12.0" transform="rotate(30.0 775.5 685.5)" fill="none" stroke="#000" stroke-width="4"/>
<circle cx="788.5" cy="739" r="5.5" fill="#000"/><circle cx="790" cy="741" r="1.3" fill="#fff"/>
<circle cx="809" cy="702" r="10.3" fill="none" stroke="#000" stroke-width="2.6"/>
<line x1="806.0" y1="710.0" x2="811.0" y2="694.0" stroke="#000" stroke-width="2.2" stroke-linecap="butt"/>
<line x1="811.0" y1="710.0" x2="815.0" y2="695.0" stroke="#000" stroke-width="2.2" stroke-linecap="butt"/>
<line x1="836.0" y1="716.0" x2="860.0" y2="728.0" stroke="#000" stroke-width="9" stroke-linecap="round"/>
<line x1="836.0" y1="716.0" x2="860.0" y2="728.0" stroke="#fcfefc" stroke-width="4.5" stroke-linecap="round"/>
<ellipse cx="864.0" cy="728.0" rx="6.5" ry="9.5" transform="rotate(25.0 864.0 728.0)" fill="#fcfefc" stroke="#000" stroke-width="3.2"/>
<line x1="802.0" y1="144.0" x2="765.0" y2="179.0" stroke="#000" stroke-width="2.2" stroke-linecap="butt"/>
<line x1="671.0" y1="171.0" x2="639.0" y2="217.0" stroke="#000" stroke-width="2.2" stroke-linecap="butt"/>
<line x1="509.0" y1="246.0" x2="482.0" y2="271.0" stroke="#000" stroke-width="2.2" stroke-linecap="butt"/>
<line x1="842.0" y1="389.0" x2="884.0" y2="359.0" stroke="#000" stroke-width="2.2" stroke-linecap="butt"/>
<line x1="793.0" y1="473.0" x2="841.0" y2="501.0" stroke="#000" stroke-width="2.2" stroke-linecap="butt"/>
<line x1="1147.0" y1="487.0" x2="1187.0" y2="464.0" stroke="#000" stroke-width="2.2" stroke-linecap="butt"/>
<line x1="1466.0" y1="552.0" x2="1507.0" y2="516.0" stroke="#000" stroke-width="2.2" stroke-linecap="butt"/>
<line x1="1530.0" y1="699.0" x2="1578.0" y2="655.0" stroke="#000" stroke-width="2.2" stroke-linecap="butt"/>
<line x1="1559.0" y1="809.0" x2="1540.0" y2="841.0" stroke="#000" stroke-width="2.2" stroke-linecap="butt"/>
<line x1="178.0" y1="547.0" x2="186.0" y2="594.0" stroke="#000" stroke-width="2.2" stroke-linecap="butt"/>
<line x1="318.0" y1="649.0" x2="259.0" y2="696.0" stroke="#000" stroke-width="2.2" stroke-linecap="butt"/>
<line x1="312.0" y1="830.0" x2="279.0" y2="875.0" stroke="#000" stroke-width="2.2" stroke-linecap="butt"/>
<line x1="429.0" y1="589.0" x2="476.0" y2="651.0" stroke="#000" stroke-width="2.2" stroke-linecap="butt"/>
<line x1="467.0" y1="501.0" x2="525.0" y2="549.0" stroke="#000" stroke-width="2.2" stroke-linecap="butt"/>
<line x1="616.0" y1="530.0" x2="583.0" y2="577.0" stroke="#000" stroke-width="2.2" stroke-linecap="butt"/>
<line x1="717.0" y1="608.0" x2="743.0" y2="593.0" stroke="#000" stroke-width="2.2" stroke-linecap="butt"/>
<line x1="772.0" y1="657.0" x2="815.0" y2="637.0" stroke="#000" stroke-width="2.2" stroke-linecap="butt"/>
<line x1="671.0" y1="708.0" x2="695.0" y2="674.0" stroke="#000" stroke-width="2.2" stroke-linecap="butt"/>
<line x1="708.0" y1="733.0" x2="722.0" y2="692.0" stroke="#000" stroke-width="2.2" stroke-linecap="butt"/>
<line x1="864.0" y1="723.0" x2="911.0" y2="701.0" stroke="#000" stroke-width="2.2" stroke-linecap="butt"/>
<line x1="814.0" y1="711.0" x2="837.0" y2="771.0" stroke="#000" stroke-width="2.2" stroke-linecap="butt"/>
<line x1="678.0" y1="889.0" x2="708.0" y2="867.0" stroke="#000" stroke-width="2.2" stroke-linecap="butt"/>
<line x1="1043.0" y1="1085.0" x2="1096.0" y2="1035.0" stroke="#000" stroke-width="2.2" stroke-linecap="butt"/>
<line x1="1160.0" y1="1080.0" x2="1202.0" y2="1065.0" stroke="#000" stroke-width="2.2" stroke-linecap="butt"/>
<line x1="899.0" y1="1114.0" x2="884.0" y2="1140.0" stroke="#000" stroke-width="2.2" stroke-linecap="butt"/>
<text transform="translate(810.30,144.30) scale(1,1.07)" font-family="Liberation Sans" font-weight="bold" font-size="49">2</text>
<text transform="translate(837.54,144.30) scale(1,1.07)" font-family="Liberation Sans" font-weight="bold" font-size="49">0</text>
<text transform="translate(864.78,144.30) scale(1,1.07)" font-family="Liberation Sans" font-weight="bold" font-size="49">5</text>
<text transform="translate(642.30,155.50) scale(1,1.07)" font-family="Liberation Sans" font-weight="bold" font-size="49">2</text>
<text transform="translate(669.54,155.50) scale(1,1.07)" font-family="Liberation Sans" font-weight="bold" font-size="49">0</text>
<text transform="translate(696.78,155.50) scale(1,1.07)" font-family="Liberation Sans" font-weight="bold" font-size="49">2</text>
<text transform="translate(434.30,318.00) scale(1,1.07)" font-family="Liberation Sans" font-weight="bold" font-size="49">2</text>
<text transform="translate(461.54,318.00) scale(1,1.07)" font-family="Liberation Sans" font-weight="bold" font-size="49">0</text>
<text transform="translate(488.78,318.00) scale(1,1.07)" font-family="Liberation Sans" font-weight="bold" font-size="49">6</text>
<text transform="translate(859.10,347.30) scale(1,1.07)" font-family="Liberation Sans" font-weight="bold" font-size="49">2</text>
<text transform="translate(886.34,347.30) scale(1,1.07)" font-family="Liberation Sans" font-weight="bold" font-size="49">0</text>
<text transform="translate(913.58,347.30) scale(1,1.07)" font-family="Liberation Sans" font-weight="bold" font-size="49">7</text>
<text transform="translate(848.10,517.00) scale(1,1.07)" font-family="Liberation Sans" font-weight="bold" font-size="49">2</text>
<path transform="translate(875.34,481.00)" d="M3.4,10 C8,7.8 11,4.8 12.4,0 L19.6,0 L19.6,35.6 L11.8,35.6 L11.8,13.4 C9.2,15.4 6.4,16.3 3.4,16.6 Z" fill="#000"/>
<text transform="translate(902.58,517.00) scale(1,1.07)" font-family="Liberation Sans" font-weight="bold" font-size="49">0</text>
<text transform="translate(1196.00,476.90) scale(1,1.07)" font-family="Liberation Sans" font-weight="bold" font-size="49">2</text>
<text transform="translate(1223.24,476.90) scale(1,1.07)" font-family="Liberation Sans" font-weight="bold" font-size="49">0</text>
<path transform="translate(1250.48,440.90)" d="M3.4,10 C8,7.8 11,4.8 12.4,0 L19.6,0 L19.6,35.6 L11.8,35.6 L11.8,13.4 C9.2,15.4 6.4,16.3 3.4,16.6 Z" fill="#000"/>
<text transform="translate(1484.00,505.00) scale(1,1.07)" font-family="Liberation Sans" font-weight="bold" font-size="49">2</text>
<text transform="translate(1511.24,505.00) scale(1,1.07)" font-family="Liberation Sans" font-weight="bold" font-size="49">0</text>
<text transform="translate(1538.48,505.00) scale(1,1.07)" font-family="Liberation Sans" font-weight="bold" font-size="49">5</text>
<text transform="translate(1555.40,644.00) scale(1,1.07)" font-family="Liberation Sans" font-weight="bold" font-size="49">2</text>
<text transform="translate(1582.64,644.00) scale(1,1.07)" font-family="Liberation Sans" font-weight="bold" font-size="49">0</text>
<text transform="translate(1609.88,644.00) scale(1,1.07)" font-family="Liberation Sans" font-weight="bold" font-size="49">2</text>
<text transform="translate(1496.60,884.40) scale(1,1.07)" font-family="Liberation Sans" font-weight="bold" font-size="49">2</text>
<text transform="translate(1523.84,884.40) scale(1,1.07)" font-family="Liberation Sans" font-weight="bold" font-size="49">0</text>
<text transform="translate(1551.08,884.40) scale(1,1.07)" font-family="Liberation Sans" font-weight="bold" font-size="49">6</text>
<text transform="translate(134.70,537.00) scale(1,1.07)" font-family="Liberation Sans" font-weight="bold" font-size="49">2</text>
<text transform="translate(161.94,537.00) scale(1,1.07)" font-family="Liberation Sans" font-weight="bold" font-size="49">0</text>
<text transform="translate(189.18,537.00) scale(1,1.07)" font-family="Liberation Sans" font-weight="bold" font-size="49">4</text>
<text transform="translate(423.60,493.80) scale(1,1.07)" font-family="Liberation Sans" font-weight="bold" font-size="49">2</text>
<text transform="translate(450.84,493.80) scale(1,1.07)" font-family="Liberation Sans" font-weight="bold" font-size="49">0</text>
<text transform="translate(478.08,493.80) scale(1,1.07)" font-family="Liberation Sans" font-weight="bold" font-size="49">8</text>
<text transform="translate(380.20,578.20) scale(1,1.07)" font-family="Liberation Sans" font-weight="bold" font-size="49">2</text>
<text transform="translate(407.44,578.20) scale(1,1.07)" font-family="Liberation Sans" font-weight="bold" font-size="49">0</text>
<text transform="translate(434.68,578.20) scale(1,1.07)" font-family="Liberation Sans" font-weight="bold" font-size="49">7</text>
<text transform="translate(288.00,636.00) scale(1,1.07)" font-family="Liberation Sans" font-weight="bold" font-size="49">2</text>
<text transform="translate(315.24,636.00) scale(1,1.07)" font-family="Liberation Sans" font-weight="bold" font-size="49">0</text>
<text transform="translate(342.48,636.00) scale(1,1.07)" font-family="Liberation Sans" font-weight="bold" font-size="49">2</text>
<text transform="translate(191.00,895.00) scale(1,1.07)" font-family="Liberation Sans" font-weight="bold" font-size="49">2</text>
<text transform="translate(218.24,895.00) scale(1,1.07)" font-family="Liberation Sans" font-weight="bold" font-size="49">0</text>
<text transform="translate(245.48,895.00) scale(1,1.07)" font-family="Liberation Sans" font-weight="bold" font-size="49">3</text>
<text transform="translate(586.00,521.00) scale(1,1.07)" font-family="Liberation Sans" font-weight="bold" font-size="49">2</text>
<text transform="translate(613.24,521.00) scale(1,1.07)" font-family="Liberation Sans" font-weight="bold" font-size="49">0</text>
<text transform="translate(640.48,521.00) scale(1,1.07)" font-family="Liberation Sans" font-weight="bold" font-size="49">9</text>
<text transform="translate(754.00,596.00) scale(1,1.07)" font-family="Liberation Sans" font-weight="bold" font-size="49">2</text>
<text transform="translate(781.24,596.00) scale(1,1.07)" font-family="Liberation Sans" font-weight="bold" font-size="49">0</text>
<text transform="translate(808.48,596.00) scale(1,1.07)" font-family="Liberation Sans" font-weight="bold" font-size="49">8</text>
<text transform="translate(825.00,651.00) scale(1,1.07)" font-family="Liberation Sans" font-weight="bold" font-size="49">2</text>
<path transform="translate(852.24,615.00)" d="M3.4,10 C8,7.8 11,4.8 12.4,0 L19.6,0 L19.6,35.6 L11.8,35.6 L11.8,13.4 C9.2,15.4 6.4,16.3 3.4,16.6 Z" fill="#000"/>
<text transform="translate(879.48,651.00) scale(1,1.07)" font-family="Liberation Sans" font-weight="bold" font-size="49">3</text>
<text transform="translate(587.60,727.30) scale(1,1.07)" font-family="Liberation Sans" font-weight="bold" font-size="49">2</text>
<path transform="translate(614.84,691.30)" d="M3.4,10 C8,7.8 11,4.8 12.4,0 L19.6,0 L19.6,35.6 L11.8,35.6 L11.8,13.4 C9.2,15.4 6.4,16.3 3.4,16.6 Z" fill="#000"/>
<path transform="translate(642.08,691.30)" d="M3.4,10 C8,7.8 11,4.8 12.4,0 L19.6,0 L19.6,35.6 L11.8,35.6 L11.8,13.4 C9.2,15.4 6.4,16.3 3.4,16.6 Z" fill="#000"/>
<text transform="translate(919.60,711.70) scale(1,1.07)" font-family="Liberation Sans" font-weight="bold" font-size="49">2</text>
<path transform="translate(946.84,675.70)" d="M3.4,10 C8,7.8 11,4.8 12.4,0 L19.6,0 L19.6,35.6 L11.8,35.6 L11.8,13.4 C9.2,15.4 6.4,16.3 3.4,16.6 Z" fill="#000"/>
<text transform="translate(974.08,711.70) scale(1,1.07)" font-family="Liberation Sans" font-weight="bold" font-size="49">5</text>
<text transform="translate(659.20,782.20) scale(1,1.07)" font-family="Liberation Sans" font-weight="bold" font-size="49">2</text>
<path transform="translate(686.44,746.20)" d="M3.4,10 C8,7.8 11,4.8 12.4,0 L19.6,0 L19.6,35.6 L11.8,35.6 L11.8,13.4 C9.2,15.4 6.4,16.3 3.4,16.6 Z" fill="#000"/>
<text transform="translate(713.68,782.20) scale(1,1.07)" font-family="Liberation Sans" font-weight="bold" font-size="49">2</text>
<text transform="translate(818.00,818.00) scale(1,1.07)" font-family="Liberation Sans" font-weight="bold" font-size="49">2</text>
<path transform="translate(845.24,782.00)" d="M3.4,10 C8,7.8 11,4.8 12.4,0 L19.6,0 L19.6,35.6 L11.8,35.6 L11.8,13.4 C9.2,15.4 6.4,16.3 3.4,16.6 Z" fill="#000"/>
<text transform="translate(872.48,818.00) scale(1,1.07)" font-family="Liberation Sans" font-weight="bold" font-size="49">4</text>
<text transform="translate(714.20,874.20) scale(1,1.07)" font-family="Liberation Sans" font-weight="bold" font-size="49">2</text>
<text transform="translate(741.44,874.20) scale(1,1.07)" font-family="Liberation Sans" font-weight="bold" font-size="49">0</text>
<path transform="translate(768.68,838.20)" d="M3.4,10 C8,7.8 11,4.8 12.4,0 L19.6,0 L19.6,35.6 L11.8,35.6 L11.8,13.4 C9.2,15.4 6.4,16.3 3.4,16.6 Z" fill="#000"/>
<text transform="translate(1069.80,1026.00) scale(1,1.07)" font-family="Liberation Sans" font-weight="bold" font-size="49">2</text>
<text transform="translate(1097.04,1026.00) scale(1,1.07)" font-family="Liberation Sans" font-weight="bold" font-size="49">0</text>
<text transform="translate(1124.28,1026.00) scale(1,1.07)" font-family="Liberation Sans" font-weight="bold" font-size="49">2</text>
<text transform="translate(1211.30,1069.50) scale(1,1.07)" font-family="Liberation Sans" font-weight="bold" font-size="49">2</text>
<text transform="translate(1238.54,1069.50) scale(1,1.07)" font-family="Liberation Sans" font-weight="bold" font-size="49">0</text>
<text transform="translate(1265.78,1069.50) scale(1,1.07)" font-family="Liberation Sans" font-weight="bold" font-size="49">4</text>
<text transform="translate(796.80,1178.00) scale(1,1.07)" font-family="Liberation Sans" font-weight="bold" font-size="49">2</text>
<text transform="translate(824.04,1178.00) scale(1,1.07)" font-family="Liberation Sans" font-weight="bold" font-size="49">0</text>
<text transform="translate(851.28,1178.00) scale(1,1.07)" font-family="Liberation Sans" font-weight="bold" font-size="49">3</text>
<g transform="translate(1640.5,1376.5) scale(1.12,1)"><text x="0" y="0" font-family="Liberation Serif" font-size="36"><tspan fill="#4a6cc0">m</tspan><tspan fill="#3aa53a">o</tspan><tspan fill="#e665a8">t</tspan><tspan fill="#1f9e3f">o</tspan><tspan fill="#ea5a1c">r</tspan><tspan fill="#f0a416">u</tspan><tspan fill="#f2cf1a">f</tspan><tspan fill="#333" font-size="16.5">.de</tspan></text></g>
<circle cx="1774" cy="1351" r="0.9" fill="#666"/>
</svg></body></html>
